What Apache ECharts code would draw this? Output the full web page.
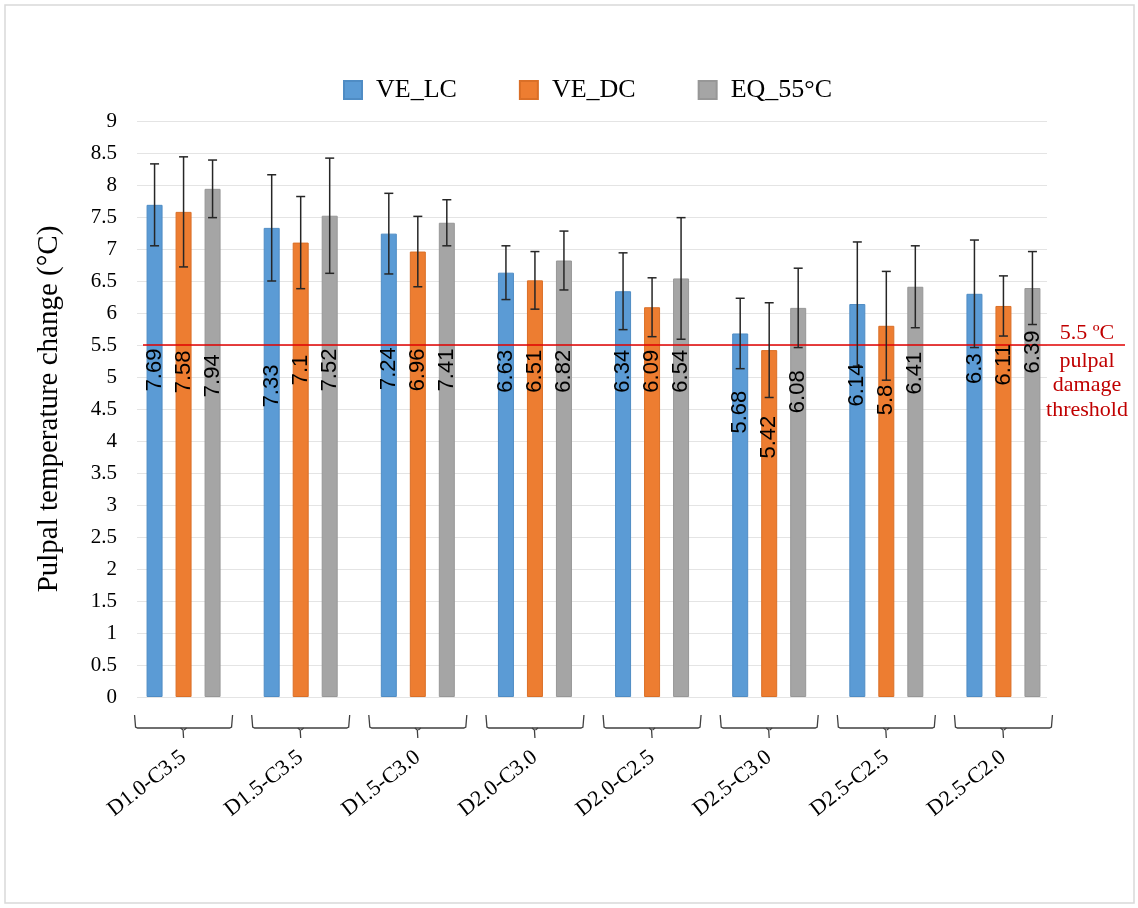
<!DOCTYPE html>
<html>
<head>
<meta charset="utf-8">
<script src="https://cdn.jsdelivr.net/npm/echarts@6/dist/echarts.min.js"></script>
<style>
  html, body { margin: 0; padding: 0; background: #ffffff; }
  #chart { width: 1138px; height: 908px; }
</style>
</head>
<body>
<div id="chart"></div>
<script>
// ---- data ----
const categories = ['D1.0-C3.5', 'D1.5-C3.5', 'D1.5-C3.0', 'D2.0-C3.0', 'D2.0-C2.5', 'D2.5-C3.0', 'D2.5-C2.5', 'D2.5-C2.0'];
const seriesNames = ['VE_LC', 'VE_DC', 'EQ_55°C'];

const veLC = [7.69, 7.33, 7.24, 6.63, 6.34, 5.68, 6.14, 6.3];
const veDC = [7.58, 7.1, 6.96, 6.51, 6.09, 5.42, 5.8, 6.11];
const eq55 = [7.94, 7.52, 7.41, 6.82, 6.54, 6.08, 6.41, 6.39];

// standard deviations (error bars)
const veLCsd = [0.64, 0.83, 0.63, 0.42, 0.60, 0.55, 0.97, 0.84];
const veDCsd = [0.86, 0.72, 0.55, 0.45, 0.46, 0.74, 0.85, 0.47];
const eq55sd = [0.45, 0.90, 0.36, 0.46, 0.95, 0.62, 0.64, 0.57];

const threshold = 5.5;
const thresholdNote = ['pulpal', 'damage', 'threshold'];

const yMin = 0, yMax = 9, yStep = 0.5;

// ---- layout / style ----
const COLORS = ['#5B9BD5', '#ED7D31', '#A5A5A5'];
const BORDERS = ['#4F8CC4', '#DA6F27', '#979797'];
const BAR_W = 16;
const BAR_GAP = 13;
// vertical centre (in axis units) of each rotated value label
const LABEL_MID = [
  [5.11, 4.86, 5.13, 5.09, 5.09, 4.45, 4.875, 5.13],
  [5.08, 5.11, 5.11, 5.09, 5.09, 4.06, 4.64, 5.19],
  [5.02, 5.11, 5.11, 5.09, 5.09, 4.77, 5.06, 5.39]
];
const SERIF = '"Liberation Serif", "Times New Roman", serif';
const SANS = '"Liberation Sans", Arial, sans-serif';
const GRID_TOP = 121, GRID_BOTTOM = 211;

const groups = [
  { values: veLC, sd: veLCsd },
  { values: veDC, sd: veDCsd },
  { values: eq55, sd: eq55sd }
];

function renderGroupExtras(params, api) {
  const i = api.value(0);
  const base = api.coord([i, 0]);
  const cx = base[0], by = base[1];
  const children = [];
  const errStyle = { stroke: '#262626', lineWidth: 1.5 };
  groups.forEach((g, k) => {
    const x = cx + (k - 1) * (BAR_W + BAR_GAP);
    const v = g.values[i], e = g.sd[i];
    const yT = api.coord([i, v + e])[1];
    const yB = api.coord([i, v - e])[1];
    children.push({ type: 'line', shape: { x1: x, y1: yT, x2: x, y2: yB }, style: errStyle });
    children.push({ type: 'line', shape: { x1: x - 4.5, y1: yT, x2: x + 4.5, y2: yT }, style: errStyle });
    children.push({ type: 'line', shape: { x1: x - 4.5, y1: yB, x2: x + 4.5, y2: yB }, style: errStyle });
    const yl = api.coord([i, LABEL_MID[k][i]])[1];
    children.push({
      type: 'text', x: x, y: yl, rotation: Math.PI / 2, z2: 10,
      style: { text: String(v), fill: '#000000', fontSize: 22, fontFamily: SANS, align: 'center', verticalAlign: 'middle' }
    });
  });
  // bracket under each category group
  const half = 49;
  children.push({
    type: 'polyline',
    shape: { points: [[cx - half, by + 18], [cx - half + 1, by + 30], [cx - half + 3, by + 31], [cx + half - 3, by + 31], [cx + half - 1, by + 30], [cx + half, by + 18]] },
    style: { stroke: '#404040', lineWidth: 1.3, fill: null }
  });
  children.push({
    type: 'polyline',
    shape: { points: [[cx - 3, by + 31], [cx - 0.5, by + 33], [cx, by + 41]] },
    style: { stroke: '#404040', lineWidth: 1.3, fill: null }
  });
  children.push({
    type: 'line', shape: { x1: cx + 3, y1: by + 31, x2: cx + 0.5, y2: by + 33 },
    style: { stroke: '#404040', lineWidth: 1.3 }
  });
  return { type: 'group', children: children };
}

function renderThreshold(params, api) {
  const y = api.coord([0, threshold])[1];
  const tx = 1087;
  const children = [
    { type: 'line', shape: { x1: 143, y1: y, x2: 1125, y2: y }, style: { stroke: '#E00000', lineWidth: 1.5 } },
    { type: 'text', x: tx, y: y - 12, style: { text: threshold + ' ºC', fill: '#C00000', fontSize: 22, fontFamily: SERIF, align: 'center', verticalAlign: 'middle' } }
  ];
  thresholdNote.forEach((t, j) => {
    children.push({ type: 'text', x: tx, y: y + 16 + j * 24.5, style: { text: t, fill: '#C00000', fontSize: 22, fontFamily: SERIF, align: 'center', verticalAlign: 'middle' } });
  });
  return { type: 'group', children: children };
}

const chart = echarts.init(document.getElementById('chart'), null, { renderer: 'canvas' });

const barSeries = seriesNames.map((name, k) => ({
  name: name,
  type: 'bar',
  xAxisIndex: 1,
  yAxisIndex: 1,
  data: groups[k].values,
  barWidth: BAR_W,
  barGap: (BAR_GAP / BAR_W * 100) + '%',
  itemStyle: { color: COLORS[k], borderColor: BORDERS[k], borderWidth: 1 },
  emphasis: { disabled: true },
  z: 2
}));

chart.setOption({
  animation: false,
  backgroundColor: '#ffffff',
  textStyle: { fontFamily: SERIF },
  graphic: [{
    type: 'rect', shape: { x: 5, y: 5, width: 1129, height: 898 },
    style: { fill: null, stroke: '#D9D9D9', lineWidth: 1.5 }, silent: true
  }],
  legend: {
    data: seriesNames,
    left: 338, top: 72,
    itemWidth: 18, itemHeight: 18, itemGap: 62,
    icon: 'rect',
    textStyle: { fontFamily: SERIF, fontSize: 26, color: '#000000', padding: [0, 0, 0, 9] }
  },
  grid: [
    { left: 137, right: 91, top: GRID_TOP, bottom: GRID_BOTTOM },
    { left: 125, width: 937, top: GRID_TOP, bottom: GRID_BOTTOM }
  ],
  xAxis: [
    { gridIndex: 0, type: 'value', min: 0, max: 1, show: false },
    {
      gridIndex: 1, type: 'category', data: categories,
      axisLine: { show: false }, axisTick: { show: false },
      axisLabel: { rotate: 38, margin: 58, fontFamily: SERIF, fontSize: 22, color: '#000000', interval: 0 },
      splitLine: { show: false }
    }
  ],
  yAxis: [
    {
      gridIndex: 0, type: 'value', min: yMin, max: yMax, interval: yStep,
      axisLine: { show: false }, axisTick: { show: false },
      axisLabel: { margin: 20, fontFamily: SERIF, fontSize: 21, color: '#000000' },
      splitLine: { lineStyle: { color: '#E4E4E4', width: 1.2 } },
      name: 'Pulpal temperature change (°C)',
      nameLocation: 'middle', nameGap: 73,
      nameTextStyle: { fontFamily: SERIF, fontSize: 29, color: '#000000' }
    },
    { gridIndex: 1, type: 'value', min: yMin, max: yMax, interval: yStep, show: false, splitLine: { show: false } }
  ],
  series: barSeries.concat([
    {
      type: 'custom',
      xAxisIndex: 1, yAxisIndex: 1,
      data: categories.map((c, i) => [i, 0]),
      encode: { x: 0, y: 1 },
      renderItem: renderGroupExtras,
      clip: false, silent: true, z: 5
    },
    {
      type: 'custom',
      xAxisIndex: 1, yAxisIndex: 1,
      data: [[0, threshold]],
      encode: { x: 0, y: 1 },
      renderItem: renderThreshold,
      clip: false, silent: true, z: 4
    }
  ])
});
</script>
</body>
</html>
